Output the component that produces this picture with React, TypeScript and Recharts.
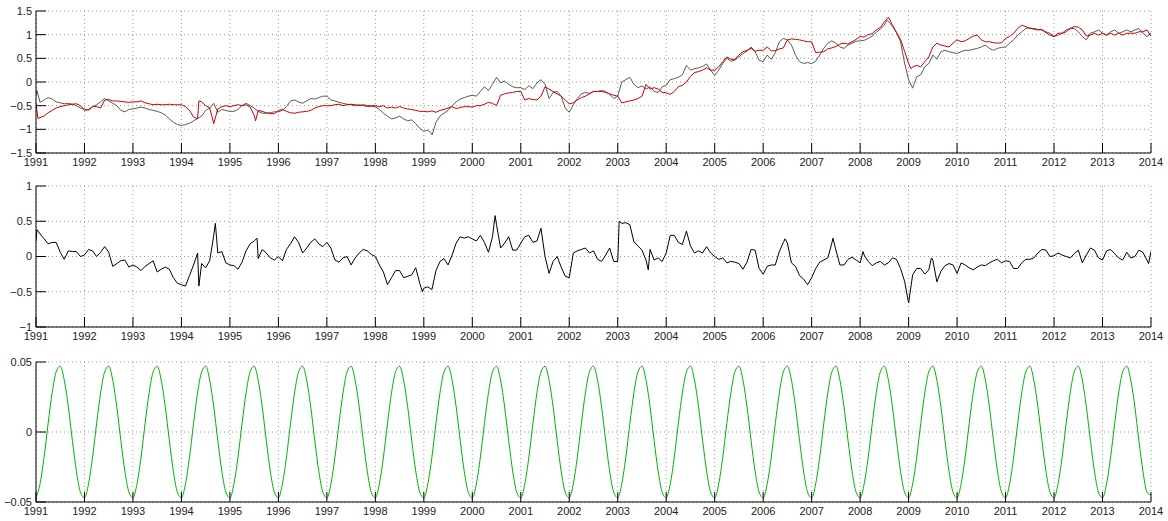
import { CartesianGrid, Line, LineChart, XAxis, YAxis } from "recharts";

// one row per year, monthly readings (Jan..Dec)
const years = [
  1991, 1992, 1993, 1994, 1995, 1996, 1997, 1998, 1999, 2000, 2001, 2002,
  2003, 2004, 2005, 2006, 2007, 2008, 2009, 2010, 2011, 2012, 2013,
];
const yearTicks = [
  1991, 1992, 1993, 1994, 1995, 1996, 1997, 1998, 1999, 2000, 2001, 2002,
  2003, 2004, 2005, 2006, 2007, 2008, 2009, 2010, 2011, 2012, 2013, 2014,
];

const grayMonthly = [
  [-0.28, -0.43, -0.38, -0.33, -0.36, -0.42, -0.44, -0.46, -0.45, -0.47, -0.5, -0.55],
  [-0.57, -0.6, -0.52, -0.48, -0.42, -0.35, -0.4, -0.45, -0.5, -0.6, -0.63, -0.58],
  [-0.57, -0.55, -0.53, -0.55, -0.58, -0.6, -0.62, -0.65, -0.7, -0.78, -0.85, -0.9],
  [-0.92, -0.9, -0.87, -0.82, -0.77, -0.72, -0.6, -0.55, -0.45, -0.64, -0.58, -0.6],
  [-0.62, -0.62, -0.58, -0.5, -0.45, -0.5, -0.55, -0.62, -0.66, -0.66, -0.65, -0.63],
  [-0.63, -0.6, -0.52, -0.4, -0.38, -0.42, -0.45, -0.4, -0.35, -0.36, -0.33, -0.3],
  [-0.3, -0.38, -0.4, -0.43, -0.45, -0.47, -0.48, -0.5, -0.48, -0.5, -0.52, -0.52],
  [-0.52, -0.58, -0.66, -0.72, -0.78, -0.76, -0.72, -0.78, -0.82, -0.8, -0.88, -0.98],
  [-1.04, -1.02, -1.1, -0.85, -0.72, -0.66, -0.6, -0.5, -0.42, -0.36, -0.33, -0.3],
  [-0.28, -0.3, -0.2, -0.1, -0.18, -0.05, 0.1, -0.02, 0.02, -0.05, -0.1, -0.12],
  [-0.12, -0.16, -0.08, -0.14, -0.02, 0.05, -0.05, -0.35, -0.22, -0.2, -0.3, -0.55],
  [-0.64, -0.48, -0.35, -0.25, -0.22, -0.24, -0.2, -0.2, -0.18, -0.2, -0.26, -0.35],
  [-0.3, 0.0, 0.05, 0.1, -0.05, -0.12, -0.08, -0.15, -0.1, -0.2, -0.22, -0.1],
  [-0.07, 0.05, 0.07, 0.1, 0.15, 0.35, 0.25, 0.28, 0.3, 0.33, 0.38, 0.25],
  [0.14, 0.25, 0.39, 0.5, 0.44, 0.46, 0.53, 0.6, 0.65, 0.74, 0.64, 0.46],
  [0.43, 0.57, 0.48, 0.62, 0.85, 0.92, 0.89, 0.78, 0.57, 0.43, 0.39, 0.41],
  [0.39, 0.44, 0.57, 0.71, 0.82, 0.87, 0.82, 0.74, 0.71, 0.78, 0.82, 0.86],
  [0.87, 0.88, 0.92, 0.97, 1.05, 1.12, 1.2, 1.28, 1.18, 1.04, 0.85, 0.4],
  [0.05, -0.13, 0.11, 0.15, 0.32, 0.39, 0.57, 0.48, 0.64, 0.67, 0.64, 0.62],
  [0.6, 0.64, 0.67, 0.67, 0.69, 0.71, 0.74, 0.78, 0.71, 0.67, 0.71, 0.73],
  [0.74, 0.82, 0.89, 0.99, 1.06, 1.13, 1.15, 1.11, 1.1, 1.11, 1.06, 1.03],
  [0.96, 0.99, 1.03, 1.1, 1.13, 1.13, 1.06, 0.96, 0.89, 1.03, 1.06, 1.1],
  [1.03, 0.99, 1.06, 1.1, 1.03, 1.06, 1.1, 1.06, 1.1, 1.13, 1.03, 0.96],
];
const grayEnd = 1.03;
const grayExtra = [
  [1991.02, -0.18],
  [1999.17, -1.12],
  [2008.55, 1.3],
];

const redMonthly = [
  [-0.45, -0.75, -0.72, -0.65, -0.6, -0.55, -0.52, -0.5, -0.48, -0.47, -0.46, -0.5],
  [-0.6, -0.58, -0.52, -0.52, -0.55, -0.38, -0.37, -0.4, -0.4, -0.41, -0.42, -0.43],
  [-0.42, -0.42, -0.4, -0.44, -0.46, -0.48, -0.47, -0.48, -0.48, -0.47, -0.48, -0.48],
  [-0.48, -0.52, -0.6, -0.74, -0.78, -0.42, -0.5, -0.55, -0.88, -0.57, -0.52, -0.5],
  [-0.52, -0.5, -0.48, -0.5, -0.48, -0.53, -0.7, -0.6, -0.62, -0.65, -0.67, -0.67],
  [-0.6, -0.58, -0.62, -0.65, -0.66, -0.64, -0.63, -0.62, -0.6, -0.55, -0.52, -0.5],
  [-0.5, -0.5, -0.48, -0.47, -0.5, -0.48, -0.47, -0.48, -0.5, -0.48, -0.5, -0.5],
  [-0.5, -0.52, -0.5, -0.55, -0.53, -0.55, -0.52, -0.55, -0.57, -0.58, -0.6, -0.62],
  [-0.62, -0.63, -0.61, -0.64, -0.6, -0.58, -0.55, -0.52, -0.56, -0.54, -0.52, -0.52],
  [-0.53, -0.5, -0.5, -0.47, -0.43, -0.45, -0.5, -0.28, -0.25, -0.23, -0.22, -0.2],
  [-0.2, -0.38, -0.35, -0.37, -0.38, -0.3, -0.1, -0.15, -0.2, -0.25, -0.3, -0.38],
  [-0.46, -0.44, -0.38, -0.33, -0.3, -0.25, -0.2, -0.2, -0.2, -0.22, -0.25, -0.28],
  [-0.3, -0.44, -0.42, -0.4, -0.38, -0.35, -0.3, -0.05, -0.15, -0.12, -0.15, -0.22],
  [-0.23, -0.26, -0.2, -0.1, -0.07, 0.0, 0.12, 0.2, 0.22, 0.25, 0.3, 0.25],
  [0.25, 0.32, 0.43, 0.53, 0.48, 0.48, 0.57, 0.64, 0.67, 0.71, 0.65, 0.67],
  [0.67, 0.74, 0.66, 0.66, 0.7, 0.72, 0.89, 0.91, 0.9, 0.89, 0.87, 0.85],
  [0.85, 0.62, 0.63, 0.64, 0.7, 0.72, 0.75, 0.8, 0.82, 0.8, 0.85, 0.9],
  [0.96, 0.95, 1.0, 1.02, 1.1, 1.15, 1.27, 1.37, 1.2, 1.05, 0.9, 0.65],
  [0.39, 0.32, 0.35, 0.32, 0.43, 0.53, 0.74, 0.82, 0.78, 0.76, 0.74, 0.82],
  [0.89, 0.85, 0.87, 0.92, 0.97, 0.99, 0.89, 0.85, 0.85, 0.83, 0.82, 0.83],
  [0.92, 0.96, 1.03, 1.13, 1.2, 1.17, 1.13, 1.13, 1.11, 1.1, 1.04, 0.99],
  [0.96, 1.03, 1.03, 1.06, 1.13, 1.17, 1.16, 1.1, 0.97, 0.99, 1.03, 0.99],
  [1.03, 0.99, 1.03, 0.99, 1.03, 0.99, 1.03, 1.03, 1.03, 1.06, 1.06, 1.1],
];
const redEnd = 0.97;
const redExtra = [
  [1991.04, -0.77],
  [1994.36, -0.4],
  [1995.53, -0.82],
  [2009.05, 0.28],
];

const blackMonthly = [
  [0.22, 0.32, 0.25, 0.18, 0.2, 0.2, 0.06, -0.04, 0.08, 0.07, 0.07, 0.0],
  [0.02, 0.1, 0.08, 0.0, 0.06, 0.14, 0.06, -0.14, -0.1, -0.06, -0.05, -0.15],
  [-0.12, -0.15, -0.2, -0.14, -0.1, -0.06, -0.22, -0.18, -0.15, -0.18, -0.3, -0.38],
  [-0.4, -0.42, -0.27, -0.12, 0.05, -0.1, -0.16, -0.06, 0.3, 0.05, 0.07, -0.09],
  [-0.12, -0.13, -0.18, -0.08, 0.08, 0.18, 0.22, -0.03, 0.1, 0.05, -0.02, -0.05],
  [0.0, -0.06, 0.1, 0.18, 0.28, 0.2, 0.05, 0.12, 0.2, 0.25, 0.18, 0.14],
  [0.2, 0.12, -0.05, -0.08, -0.02, 0.0, -0.12, -0.02, 0.05, 0.1, 0.08, 0.03],
  [0.0, -0.12, -0.22, -0.4, -0.3, -0.2, -0.2, -0.3, -0.28, -0.26, -0.16, -0.38],
  [-0.45, -0.43, -0.47, -0.2, -0.07, -0.03, -0.12, 0.02, 0.19, 0.28, 0.26, 0.28],
  [0.25, 0.22, 0.3, 0.2, 0.06, 0.28, 0.45, 0.12, 0.19, 0.28, 0.09, 0.09],
  [0.19, 0.28, 0.3, 0.2, 0.22, 0.4, 0.0, -0.24, -0.07, 0.0, -0.15, -0.28],
  [-0.3, 0.05, 0.08, 0.1, 0.12, 0.05, 0.08, -0.04, -0.07, 0.02, 0.12, -0.07],
  [-0.07, 0.47, 0.48, 0.45, 0.21, 0.15, 0.09, -0.05, 0.1, -0.05, -0.02, -0.07],
  [0.05, 0.3, 0.3, 0.2, 0.17, 0.36, 0.15, 0.05, 0.08, 0.05, 0.14, 0.05],
  [0.0, -0.04, -0.02, -0.09, -0.07, -0.08, -0.1, -0.18, -0.08, 0.1, 0.09, -0.17],
  [-0.25, -0.14, -0.12, -0.12, 0.07, 0.2, 0.19, -0.09, -0.14, -0.27, -0.32, -0.4],
  [-0.3, -0.17, -0.08, -0.05, -0.02, 0.19, 0.09, -0.12, -0.12, -0.04, -0.01, -0.05],
  [-0.09, 0.02, -0.07, -0.13, -0.09, -0.07, -0.12, -0.09, -0.02, -0.04, -0.17, -0.35],
  [-0.66, -0.26, -0.17, -0.17, -0.25, -0.19, -0.05, -0.36, -0.21, -0.13, -0.1, -0.12],
  [-0.24, -0.09, -0.12, -0.16, -0.19, -0.15, -0.12, -0.13, -0.09, -0.06, -0.04, -0.09],
  [-0.06, -0.07, -0.17, -0.17, -0.09, -0.04, -0.04, -0.02, 0.05, 0.1, 0.09, 0.0],
  [0.01, 0.05, 0.02, 0.0, -0.02, 0.04, 0.09, -0.09, 0.02, 0.12, 0.09, -0.02],
  [-0.05, 0.08, 0.1, 0.04, -0.02, -0.05, 0.06, -0.02, 0.0, 0.09, 0.06, -0.05],
];
const blackEnd = 0.07;
const blackExtra = [
  [1991.02, 0.38],
  [1994.36, -0.42],
  [1994.7, 0.47],
  [1995.56, 0.26],
  [1998.97, -0.5],
  [2000.47, 0.58],
  [2003.03, 0.5],
  [2003.63, -0.19],
  [2006.45, 0.25],
  [2007.44, 0.26],
  [2008.06, 0.07],
  [2009.47, -0.02],
  [2013.95, -0.1],
];

// the seasonal term repeats the same yearly shape
const seasonalCycle = [
  -0.047, -0.037, -0.018, 0.006, 0.028, 0.043, 0.047, 0.037, 0.018, -0.006, -0.028, -0.043,
];
const seasonalEnd = -0.045;

const topTicks = [-1.5, -1, -0.5, 0, 0.5, 1, 1.5];
const midTicks = [-1, -0.5, 0, 0.5, 1];
const lowTicks = [-0.05, 0, 0.05];

type Pt = { t: number; v: number };

function buildSeries(monthly: number[][], end: number, extras: number[][] = []): Pt[] {
  const pts: Pt[] = [];
  monthly.forEach((row, i) => row.forEach((v, m) => pts.push({ t: years[i] + m / 12, v })));
  pts.push({ t: 2014, v: end });
  extras.forEach(([t, v]) => pts.push({ t, v }));
  return pts.sort((a, b) => a.t - b.t);
}

const grayPts = buildSeries(grayMonthly, grayEnd, grayExtra);
const redPts = buildSeries(redMonthly, redEnd, redExtra);
const blackPts = buildSeries(blackMonthly, blackEnd, blackExtra);
const seasonalPts = buildSeries(years.map(() => seasonalCycle), seasonalEnd);

const FONT = "'Liberation Sans Narrow', 'Arial Narrow', 'Liberation Sans', Arial, sans-serif";
const TICK_LEN = 10;
const X_GAP = 5;
const Y_GAP = 4;

const fmt = (v: number) => String(v).replace("-", "\u2212");

function XTick(props: any) {
  const { x, y, payload } = props;
  const axisY = y - X_GAP;
  return (
    <g>
      <line x1={x} x2={x} y1={axisY} y2={axisY - TICK_LEN} stroke="#000" />
      <text x={x} y={y} dy="0.71em" textAnchor="middle" fontSize={11} fill="#222" fontFamily={FONT}>
        {payload.value}
      </text>
    </g>
  );
}

function YTick(props: any) {
  const { x, y, payload } = props;
  const axisX = x + Y_GAP;
  return (
    <g>
      <line x1={axisX} x2={axisX + TICK_LEN} y1={y} y2={y} stroke="#000" />
      <text x={x} y={y} dy="0.355em" textAnchor="end" fontSize={11} fill="#222" fontFamily={FONT}>
        {fmt(payload.value)}
      </text>
    </g>
  );
}

interface PanelProps {
  height: number;
  top: number;
  bottom: number;
  axisHeight: number;
  domain: [number, number];
  ticks: number[];
  children: React.ReactNode;
}

function Panel({ height, top, bottom, axisHeight, domain, ticks, children }: PanelProps) {
  return (
    <LineChart width={1168} height={height} margin={{ top, right: 17, bottom, left: 0 }}>
      <CartesianGrid stroke="#999" strokeDasharray="1 3" />
      <XAxis
        dataKey="t"
        type="number"
        domain={[1991, 2014]}
        ticks={yearTicks}
        interval={0}
        allowDataOverflow
        height={axisHeight}
        tickSize={0}
        tickMargin={X_GAP}
        tick={XTick}
        axisLine={{ stroke: "#000" }}
      />
      <YAxis
        type="number"
        domain={domain}
        ticks={ticks}
        interval={0}
        allowDataOverflow
        width={36}
        tickSize={0}
        tickMargin={Y_GAP}
        tick={YTick}
        axisLine={{ stroke: "#000" }}
      />
      {children}
    </LineChart>
  );
}

export default function App() {
  return (
    <div style={{ position: "absolute", left: 0, top: 0, width: 1168, height: 521, background: "#fff" }}>
      <Panel height={175} top={11} bottom={2} axisHeight={20} domain={[-1.5, 1.5]} ticks={topTicks}>
        <Line data={grayPts} dataKey="v" type="linear" stroke="#5a5a5a" strokeWidth={1} dot={false} isAnimationActive={false} />
        <Line data={redPts} dataKey="v" type="linear" stroke="#cc0000" strokeWidth={1} dot={false} isAnimationActive={false} />
      </Panel>
      <Panel height={175} top={11} bottom={3} axisHeight={20} domain={[-1, 1]} ticks={midTicks}>
        <Line data={blackPts} dataKey="v" type="linear" stroke="#000" strokeWidth={1} dot={false} isAnimationActive={false} />
      </Panel>
      <Panel height={171} top={12} bottom={1} axisHeight={18} domain={[-0.05, 0.05]} ticks={lowTicks}>
        <Line data={seasonalPts} dataKey="v" type="monotone" stroke="#00b300" strokeWidth={1} dot={false} isAnimationActive={false} />
      </Panel>
    </div>
  );
}
